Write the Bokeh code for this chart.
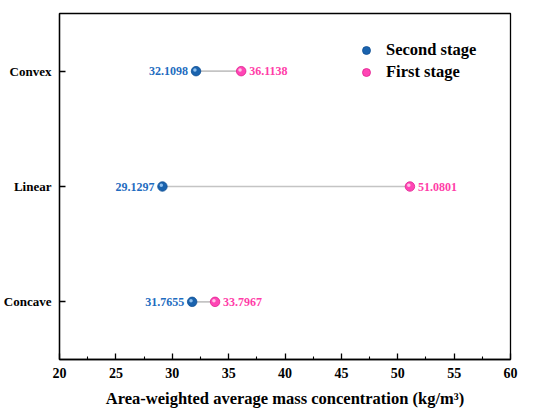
from bokeh.plotting import figure
from bokeh.models import ColumnDataSource, Legend, LegendItem, FixedTicker, Range1d
from bokeh.transform import dodge
from bokeh.core.properties import value
from bokeh.embed import file_html
from bokeh.resources import INLINE

categories = ["Concave", "Linear", "Convex"]
second_stage = [31.7655, 29.1297, 32.1098]
first_stage = [33.7967, 51.0801, 36.1138]
x_ticks = [20, 25, 30, 35, 40, 45, 50, 55, 60]

FONT = "Liberation Serif"
BLUE = "#1a63ae"
BLUE_T = "#1e6cc0"
PINK = "#ff45b5"
PINK_T = "#ff3da8"

src = ColumnDataSource(dict(
    cat=categories,
    s2=second_stage,
    s1=first_stage,
    s2_lbl=["%.4f" % v for v in second_stage],
    s1_lbl=["%.4f" % v for v in first_stage],
))

p = figure(frame_width=451, frame_height=346, y_range=categories, x_range=Range1d(20, 60),
           output_backend="svg", toolbar_location=None,
           min_border_left=55, min_border_right=28, min_border_top=13, min_border_bottom=50)
p.xgrid.visible = False
p.ygrid.visible = False
p.outline_line_color = "black"
p.outline_line_width = 1.3

p.segment(x0="s2", x1="s1", y0="cat", y1="cat", source=src, line_color="#c4c4c4", line_width=1.6)

r2 = p.scatter(x="s2", y="cat", source=src, size=9.5, fill_color=BLUE, line_color="#0f4f94", line_width=0.8)
p.scatter(x=dodge("s2", -0.1), y=dodge("cat", 0.01, range=p.y_range), source=src, size=3.5,
          fill_color="#8fc0ee", line_color=None)
r1 = p.scatter(x="s1", y="cat", source=src, size=9.5, fill_color=PINK, line_color="#e0208e", line_width=0.8)
p.scatter(x=dodge("s1", -0.1), y=dodge("cat", 0.01, range=p.y_range), source=src, size=3.5,
          fill_color="#ffc2e6", line_color=None)

p.text(x="s2", y="cat", text="s2_lbl", source=src, x_offset=-8, text_align="right", text_baseline="middle",
       text_font=value(FONT), text_font_style="bold", text_font_size="12px", text_color=BLUE_T)
p.text(x="s1", y="cat", text="s1_lbl", source=src, x_offset=8, text_align="left", text_baseline="middle",
       text_font=value(FONT), text_font_style="bold", text_font_size="12px", text_color=PINK_T)

# x axis
xa = p.xaxis[0]
xa.ticker = FixedTicker(ticks=x_ticks, minor_ticks=[22.5 + 5 * i for i in range(8)])
xa.major_tick_in = 6
xa.major_tick_out = 0
xa.minor_tick_in = 3
xa.minor_tick_out = 0
xa.axis_line_width = 1.3
xa.major_tick_line_width = 1.3
xa.minor_tick_line_width = 1.1
xa.major_label_text_font = FONT
xa.major_label_text_font_style = "bold"
xa.major_label_text_font_size = "14px"
xa.major_label_text_color = "black"
xa.major_label_standoff = 8
xa.axis_label = "Area-weighted average mass concentration (kg/m\u00b3)"
xa.axis_label_text_font = FONT
xa.axis_label_text_font_style = "bold"
xa.axis_label_text_font_size = "16.5px"
xa.axis_label_text_color = "black"
xa.axis_label_standoff = 8

ya = p.yaxis[0]
ya.major_tick_in = 6
ya.major_tick_out = 0
ya.axis_line_width = 1.3
ya.major_tick_line_width = 1.3
ya.major_label_text_font = FONT
ya.major_label_text_font_style = "bold"
ya.major_label_text_font_size = "13px"
ya.major_label_text_color = "black"
ya.major_label_standoff = 8

legend = Legend(items=[
    LegendItem(label="Second stage", renderers=[r2], index=0),
    LegendItem(label="First stage", renderers=[r1], index=0),
], location=(297, 276))
legend.border_line_color = None
legend.background_fill_alpha = 0
legend.label_text_font = FONT
legend.label_text_font_style = "bold"
legend.label_text_font_size = "16.5px"
legend.label_text_color = "black"
legend.glyph_width = 20
legend.label_standoff = 10
legend.spacing = 0
legend.label_height = 22
legend.glyph_height = 22
p.add_layout(legend)

open("out.html", "w").write(file_html(p, INLINE))
